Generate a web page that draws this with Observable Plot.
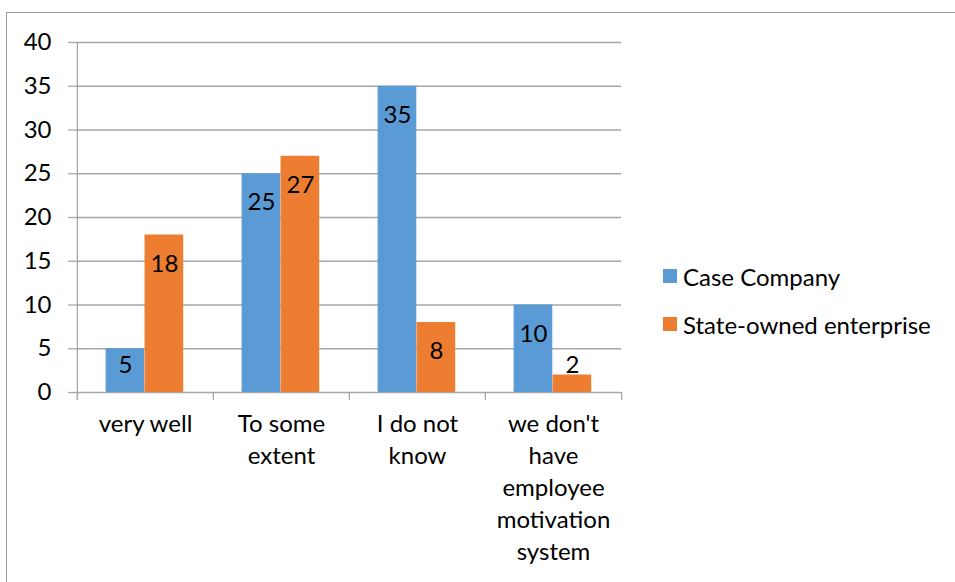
<!DOCTYPE html>
<html>
<head>
<meta charset="utf-8">
<script src="https://cdn.jsdelivr.net/npm/d3@7"></script>
<script src="https://cdn.jsdelivr.net/npm/@observablehq/plot@0.6"></script>
<style>
  html, body { margin: 0; padding: 0; background: #fff; overflow: hidden; }
  #wrap { position: relative; width: 955px; height: 582px; overflow: hidden; font-family: Lato, "Open Sans", sans-serif; }
  #border { position: absolute; left: 6px; top: 12px; width: 1200px; height: 1200px; border: 1.5px solid #9a9a9a; box-sizing: border-box; }
  #chart { position: absolute; left: 0; top: 0; }
  #legend { position: absolute; left: 663px; top: 261px; font-size: 24px; color: #000; }
  .item { display: flex; align-items: center; height: 30px; margin-bottom: 18px; }
  .sw { width: 14px; height: 14px; margin-right: 6px; }
</style>
</head>
<body>
<div id="wrap">
  <div id="border"></div>
  <div id="chart"></div>
  <div id="legend"></div>
</div>
<script>
const categories = ["very well", "To some extent", "I do not know", "we don't have employee motivation system"];
const categoryLabels = ["very well", "To some\nextent", "I do not\nknow", "we don't\nhave\nemployee\nmotivation\nsystem"];
const series = ["Case Company", "State-owned enterprise"];
const caseCompany = [5, 25, 35, 10];
const stateOwned = [18, 27, 8, 2];
const yTicks = [0, 5, 10, 15, 20, 25, 30, 35, 40];
const colors = ["#5B9BD5", "#ED7D31"];

const rows = [];
categories.forEach((c, i) => {
  rows.push({category: c, series: series[0], value: caseCompany[i]});
  rows.push({category: c, series: series[1], value: stateOwned[i]});
});

const W = 955, H = 582, ML = 76, MR = 334, MT = 42, MB = 190;
const bw = (W - ML - MR) / categories.length;
const grey = "#a6a6a6";
const font = 24;

// bar placement within band (fractions of band)
const barStart = 0.21, barWidth = 0.2857;
const insets = [
  {insetLeft: bw * barStart, insetRight: bw * (1 - barStart - barWidth)},
  {insetLeft: bw * (barStart + barWidth), insetRight: bw * (1 - barStart - 2 * barWidth)}
];
const centerOffset = [(barStart + barWidth / 2 - 0.5) * bw, (barStart + 1.5 * barWidth - 0.5) * bw];

const labelMarks = [];
series.forEach((s, si) => {
  const data = rows.filter(d => d.series === s);
  const common = {x: "category", y: "value", text: d => String(d.value), dx: centerOffset[si], fontSize: font, fill: "#000", lineAnchor: "middle"};
  labelMarks.push(Plot.text(data.filter(d => d.value >= 8), {...common, dy: 29}));
  labelMarks.push(Plot.text(data.filter(d => d.value >= 3 && d.value < 8), {...common, dy: 17}));
  labelMarks.push(Plot.text(data.filter(d => d.value < 3), {...common, dy: -10}));
});

const chart = Plot.plot({
  width: W,
  height: H,
  marginLeft: ML,
  marginRight: MR,
  marginTop: MT,
  marginBottom: MB,
  style: {fontFamily: "Lato, 'Open Sans', sans-serif", color: "#000", background: "transparent"},
  x: {type: "band", domain: categories, padding: 0, label: null},
  y: {domain: [0, 40], label: null},
  color: {domain: series, range: colors},
  marks: [
    Plot.ruleY(yTicks, {y: d => d, stroke: grey, strokeWidth: 1.3}),
    Plot.axisY(yTicks, {tickSize: 8, tickPadding: 17, stroke: grey, fontSize: font, fill: "#000", strokeWidth: 1.3}),
    ...series.map((s, si) => Plot.barY(rows.filter(d => d.series === s), {x: "category", y: "value", fill: "series", ...insets[si]})),
    Plot.ruleX([categories[0]], {x: d => d, dx: -bw / 2, insetBottom: -8, stroke: grey, strokeWidth: 1.3}),
    Plot.ruleX(categories, {x: d => d, dx: -bw / 2, y1: 0, y2: 0, insetBottom: -8, stroke: grey, strokeWidth: 1.3}),
    Plot.ruleX([categories[categories.length - 1]], {x: d => d, dx: bw / 2, y1: 0, y2: 0, insetBottom: -8, stroke: grey, strokeWidth: 1.3}),
    Plot.axisX({tickSize: 0, tickPadding: 17, fontSize: font, lineHeight: 1.33, fill: "#000", tickFormat: d => categoryLabels[categories.indexOf(d)]}),
    ...labelMarks
  ]
});
document.getElementById("chart").appendChild(chart);

const legend = document.getElementById("legend");
series.forEach((s, i) => {
  const item = document.createElement("div");
  item.className = "item";
  item.innerHTML = `<span class="sw" style="background:${colors[i]}"></span><span>${s}</span>`;
  legend.appendChild(item);
});
</script>
</body>
</html>
